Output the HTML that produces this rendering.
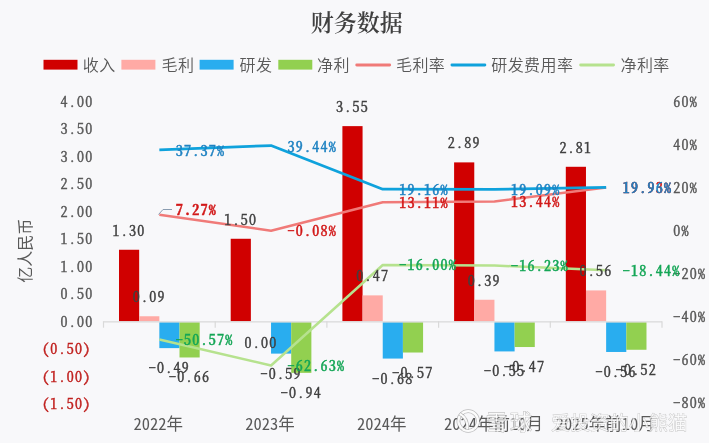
<!DOCTYPE html><html><head><meta charset="utf-8"><style>html,body{margin:0;padding:0;background:#F8F8FA;}svg{display:block}.n{font-family:"Noto Serif CJK SC",serif;font-feature-settings:"hwid";font-size:14px;letter-spacing:1.25px;stroke-width:0.45px;paint-order:stroke}.nb{font-weight:500}.nbb{font-weight:700}.c{font-family:"Noto Sans CJK SC",sans-serif;font-feature-settings:"hwid";font-size:16.5px}</style></head><body>
<svg width="709" height="443" viewBox="0 0 709 443">
<rect width="709" height="443" fill="#F8F8FA"/>
<text x="356.8" y="31" text-anchor="middle" font-family="'Noto Serif CJK SC', serif" font-weight="600" font-size="23" fill="#404040">财务数据</text>
<rect x="43.5" y="59.8" width="34" height="9.8" fill="#D00000"/>
<text x="82.8" y="71" font-family="'Liberation Sans', 'Noto Sans CJK SC', sans-serif" font-size="16" font-weight="350" letter-spacing="0.4" fill="#595959">收入</text>
<rect x="121.4" y="59.8" width="34" height="9.8" fill="#FFAAA5"/>
<text x="161.5" y="71" font-family="'Liberation Sans', 'Noto Sans CJK SC', sans-serif" font-size="16" font-weight="350" letter-spacing="0.4" fill="#595959">毛利</text>
<rect x="199.6" y="59.8" width="34" height="9.8" fill="#29ADEF"/>
<text x="239.5" y="71" font-family="'Liberation Sans', 'Noto Sans CJK SC', sans-serif" font-size="16" font-weight="350" letter-spacing="0.4" fill="#595959">研发</text>
<rect x="278.3" y="59.8" width="34" height="9.8" fill="#92D050"/>
<text x="317" y="71" font-family="'Liberation Sans', 'Noto Sans CJK SC', sans-serif" font-size="16" font-weight="350" letter-spacing="0.4" fill="#595959">净利</text>
<rect x="355.3" y="63.6" width="35.8" height="2.8" rx="1.4" fill="#F07A78"/>
<text x="396" y="71" font-family="'Liberation Sans', 'Noto Sans CJK SC', sans-serif" font-size="16" font-weight="350" letter-spacing="0.4" fill="#595959">毛利率</text>
<rect x="450.5" y="63.6" width="35.8" height="2.8" rx="1.4" fill="#0FA2DC"/>
<text x="491.3" y="71" font-family="'Liberation Sans', 'Noto Sans CJK SC', sans-serif" font-size="16" font-weight="350" letter-spacing="0.4" fill="#595959">研发费用率</text>
<rect x="579.2" y="63.6" width="35.8" height="2.8" rx="1.4" fill="#B6E28E"/>
<text x="620.5" y="71" font-family="'Liberation Sans', 'Noto Sans CJK SC', sans-serif" font-size="16" font-weight="350" letter-spacing="0.4" fill="#595959">净利率</text>
<text x="93.5" y="106.9" text-anchor="end" class="n" fill="#595959" stroke="#595959">4.00</text>
<text x="93.5" y="134.4" text-anchor="end" class="n" fill="#595959" stroke="#595959">3.50</text>
<text x="93.5" y="161.8" text-anchor="end" class="n" fill="#595959" stroke="#595959">3.00</text>
<text x="93.5" y="189.3" text-anchor="end" class="n" fill="#595959" stroke="#595959">2.50</text>
<text x="93.5" y="216.8" text-anchor="end" class="n" fill="#595959" stroke="#595959">2.00</text>
<text x="93.5" y="244.3" text-anchor="end" class="n" fill="#595959" stroke="#595959">1.50</text>
<text x="93.5" y="271.8" text-anchor="end" class="n" fill="#595959" stroke="#595959">1.00</text>
<text x="93.5" y="299.2" text-anchor="end" class="n" fill="#595959" stroke="#595959">0.50</text>
<text x="93.5" y="326.7" text-anchor="end" class="n" fill="#595959" stroke="#595959">0.00</text>
<text x="91.5" y="354.2" text-anchor="end" class="n" fill="#C0201E" stroke="#C0201E">(0.50)</text>
<text x="91.5" y="381.6" text-anchor="end" class="n" fill="#C0201E" stroke="#C0201E">(1.00)</text>
<text x="91.5" y="409.1" text-anchor="end" class="n" fill="#C0201E" stroke="#C0201E">(1.50)</text>
<text x="673.3" y="106.7" class="n" fill="#595959" stroke="#595959">60%</text>
<text x="673.3" y="149.8" class="n" fill="#595959" stroke="#595959">40%</text>
<text x="673.3" y="192.9" class="n" fill="#595959" stroke="#595959">20%</text>
<text x="673.3" y="236.0" class="n" fill="#595959" stroke="#595959">0%</text>
<text x="673.3" y="279.1" class="n" fill="#595959" stroke="#595959">-20%</text>
<text x="673.3" y="322.2" class="n" fill="#595959" stroke="#595959">-40%</text>
<text x="673.3" y="365.3" class="n" fill="#595959" stroke="#595959">-60%</text>
<text x="673.3" y="408.4" class="n" fill="#595959" stroke="#595959">-80%</text>
<text x="0" y="0" transform="translate(30.8,250.8) rotate(-90)" text-anchor="middle" font-family="'Liberation Sans', 'Noto Sans CJK SC', sans-serif" font-size="16" fill="#595959">亿人民币</text>
<rect x="119.00" y="249.76" width="20.17" height="71.44" fill="#D00000"/>
<rect x="139.17" y="316.25" width="20.17" height="4.95" fill="#FFAAA5"/>
<rect x="159.34" y="322.20" width="20.17" height="25.93" fill="#29ADEF"/>
<rect x="179.51" y="322.20" width="20.17" height="35.27" fill="#92D050"/>
<rect x="230.70" y="238.77" width="20.17" height="82.43" fill="#D00000"/>
<rect x="271.04" y="322.20" width="20.17" height="31.42" fill="#29ADEF"/>
<rect x="291.21" y="322.20" width="20.17" height="50.65" fill="#92D050"/>
<rect x="342.40" y="126.13" width="20.17" height="195.07" fill="#D00000"/>
<rect x="362.57" y="295.37" width="20.17" height="25.83" fill="#FFAAA5"/>
<rect x="382.74" y="322.20" width="20.17" height="36.37" fill="#29ADEF"/>
<rect x="402.91" y="322.20" width="20.17" height="30.32" fill="#92D050"/>
<rect x="454.10" y="162.39" width="20.17" height="158.81" fill="#D00000"/>
<rect x="474.27" y="299.77" width="20.17" height="21.43" fill="#FFAAA5"/>
<rect x="494.44" y="322.20" width="20.17" height="29.22" fill="#29ADEF"/>
<rect x="514.61" y="322.20" width="20.17" height="24.83" fill="#92D050"/>
<rect x="565.80" y="166.79" width="20.17" height="154.41" fill="#D00000"/>
<rect x="585.97" y="290.43" width="20.17" height="30.77" fill="#FFAAA5"/>
<rect x="606.14" y="322.20" width="20.17" height="29.77" fill="#29ADEF"/>
<rect x="626.31" y="322.20" width="20.17" height="27.57" fill="#92D050"/>
<line x1="103.5" y1="321.8" x2="662.0" y2="321.8" stroke="#D9D9D9" stroke-width="1.2"/>
<line x1="103.50" y1="321.2" x2="103.50" y2="327.7" stroke="#D9D9D9" stroke-width="1.2"/>
<line x1="215.20" y1="321.2" x2="215.20" y2="327.7" stroke="#D9D9D9" stroke-width="1.2"/>
<line x1="326.90" y1="321.2" x2="326.90" y2="327.7" stroke="#D9D9D9" stroke-width="1.2"/>
<line x1="438.60" y1="321.2" x2="438.60" y2="327.7" stroke="#D9D9D9" stroke-width="1.2"/>
<line x1="550.30" y1="321.2" x2="550.30" y2="327.7" stroke="#D9D9D9" stroke-width="1.2"/>
<line x1="662.00" y1="321.2" x2="662.00" y2="327.7" stroke="#D9D9D9" stroke-width="1.2"/>
<polyline points="159.35,339.48 271.05,365.47 382.75,264.98 494.45,265.48 606.15,270.24" fill="none" stroke="#B6E28E" stroke-width="2.5" stroke-linejoin="round"/>
<polyline points="159.35,214.83 271.05,230.67 382.75,202.25 494.45,201.54 606.15,187.55" fill="none" stroke="#F07A78" stroke-width="2.5" stroke-linejoin="round"/>
<polyline points="159.35,149.97 271.05,145.51 382.75,189.21 494.45,189.36 606.15,187.49" fill="none" stroke="#0FA2DC" stroke-width="2.75" stroke-linejoin="round"/>
<polyline points="158.5,214.5 163,209.5 172,209.5" fill="none" stroke="#8A9CB0" stroke-width="1"/>
<text x="129.09" y="235.76" text-anchor="middle" class="n" fill="#404040" stroke="#404040">1.30</text>
<text x="149.26" y="302.25" text-anchor="middle" class="n" fill="#404040" stroke="#404040">0.09</text>
<text x="169.43" y="373.13" text-anchor="middle" class="n" fill="#404040" stroke="#404040">-0.49</text>
<text x="189.59" y="382.47" text-anchor="middle" class="n" fill="#404040" stroke="#404040">-0.66</text>
<text x="240.78" y="224.77" text-anchor="middle" class="n" fill="#404040" stroke="#404040">1.50</text>
<text x="260.95" y="348.20" text-anchor="middle" class="n" fill="#404040" stroke="#404040">0.00</text>
<text x="281.12" y="378.62" text-anchor="middle" class="n" fill="#404040" stroke="#404040">-0.59</text>
<text x="301.29" y="397.85" text-anchor="middle" class="n" fill="#404040" stroke="#404040">-0.94</text>
<text x="352.48" y="112.13" text-anchor="middle" class="n" fill="#404040" stroke="#404040">3.55</text>
<text x="372.65" y="281.37" text-anchor="middle" class="n" fill="#404040" stroke="#404040">0.47</text>
<text x="392.82" y="383.57" text-anchor="middle" class="n" fill="#404040" stroke="#404040">-0.68</text>
<text x="412.99" y="377.52" text-anchor="middle" class="n" fill="#404040" stroke="#404040">-0.57</text>
<text x="464.19" y="148.39" text-anchor="middle" class="n" fill="#404040" stroke="#404040">2.89</text>
<text x="484.36" y="285.77" text-anchor="middle" class="n" fill="#404040" stroke="#404040">0.39</text>
<text x="504.53" y="376.42" text-anchor="middle" class="n" fill="#404040" stroke="#404040">-0.55</text>
<text x="524.70" y="372.03" text-anchor="middle" class="n" fill="#404040" stroke="#404040">-0.47</text>
<text x="575.88" y="152.79" text-anchor="middle" class="n" fill="#404040" stroke="#404040">2.81</text>
<text x="596.05" y="276.43" text-anchor="middle" class="n" fill="#404040" stroke="#404040">0.56</text>
<text x="616.23" y="376.97" text-anchor="middle" class="n" fill="#404040" stroke="#404040">-0.56</text>
<text x="636.39" y="374.77" text-anchor="middle" class="n" fill="#404040" stroke="#404040">-0.52</text>
<text x="175.85" y="215.00" text-anchor="start" class="n nbb" fill="#D21818" stroke="#D21818">7.27%</text>
<text x="287.55" y="236.17" text-anchor="start" class="n nb" fill="#D21818" stroke="#D21818">-0.08%</text>
<text x="399.25" y="207.75" text-anchor="start" class="n nb" fill="#D21818" stroke="#D21818">13.11%</text>
<text x="510.95" y="207.04" text-anchor="start" class="n nb" fill="#D21818" stroke="#D21818">13.44%</text>
<text x="622.65" y="193.05" text-anchor="start" class="n nb" fill="#D21818" stroke="#D21818">19.93%</text>
<text x="175.85" y="155.97" text-anchor="start" class="n nb" fill="#1E82C2" stroke="#1E82C2">37.37%</text>
<text x="287.55" y="151.51" text-anchor="start" class="n nb" fill="#1E82C2" stroke="#1E82C2">39.44%</text>
<text x="399.25" y="195.21" text-anchor="start" class="n nb" fill="#1E82C2" stroke="#1E82C2">19.16%</text>
<text x="510.95" y="195.36" text-anchor="start" class="n nb" fill="#1E82C2" stroke="#1E82C2">19.09%</text>
<text x="622.65" y="193.49" text-anchor="start" class="n nb" fill="#1E82C2" stroke="#1E82C2">19.96%</text>
<text x="175.85" y="344.98" text-anchor="start" class="n nb" fill="#14A656" stroke="#14A656">-50.57%</text>
<text x="287.55" y="370.97" text-anchor="start" class="n nb" fill="#14A656" stroke="#14A656">-62.63%</text>
<text x="399.25" y="270.48" text-anchor="start" class="n nb" fill="#14A656" stroke="#14A656">-16.00%</text>
<text x="510.95" y="270.98" text-anchor="start" class="n nb" fill="#14A656" stroke="#14A656">-16.23%</text>
<text x="622.65" y="275.74" text-anchor="start" class="n nb" fill="#14A656" stroke="#14A656">-18.44%</text>
<text x="158.35" y="430" text-anchor="middle" class="c" fill="#595959">2022年</text>
<text x="270.05" y="430" text-anchor="middle" class="c" fill="#595959">2023年</text>
<text x="381.75" y="430" text-anchor="middle" class="c" fill="#595959">2024年</text>
<text x="493.45" y="430" text-anchor="middle" class="c" fill="#595959">2024年前10月</text>
<text x="605.15" y="430" text-anchor="middle" class="c" fill="#595959">2025年前10月</text>
<g>
<circle cx="468.2" cy="421" r="9.8" fill="none" stroke="#808080" stroke-width="3.8" opacity="0.5"/>
<circle cx="468.2" cy="421" r="9.8" fill="none" stroke="#ffffff" stroke-width="2.3" opacity="0.95"/>
<path d="M459.8 413.8 Q468.5 418.5 467.2 429.5" fill="none" stroke="#808080" stroke-width="3.6" opacity="0.45"/>
<path d="M459.8 413.8 Q468.5 418.5 467.2 429.5" fill="none" stroke="#ffffff" stroke-width="2.1" opacity="0.95"/>
<text x="485.5" y="429.5" letter-spacing="2.5" font-family="'Liberation Sans', 'Noto Sans CJK SC', sans-serif" font-size="22" fill="#ffffff" fill-opacity="0.75" stroke="#777" stroke-opacity="0.55" stroke-width="0.7" paint-order="stroke">雪球</text>
<text x="551" y="429.5" font-family="'Liberation Sans', 'Noto Sans CJK SC', sans-serif" font-size="19.5" fill="#ffffff" fill-opacity="0.75" stroke="#888" stroke-opacity="0.5" stroke-width="0.7" paint-order="stroke">爱投资的小熊猫</text>
</g>
</svg></body></html>
